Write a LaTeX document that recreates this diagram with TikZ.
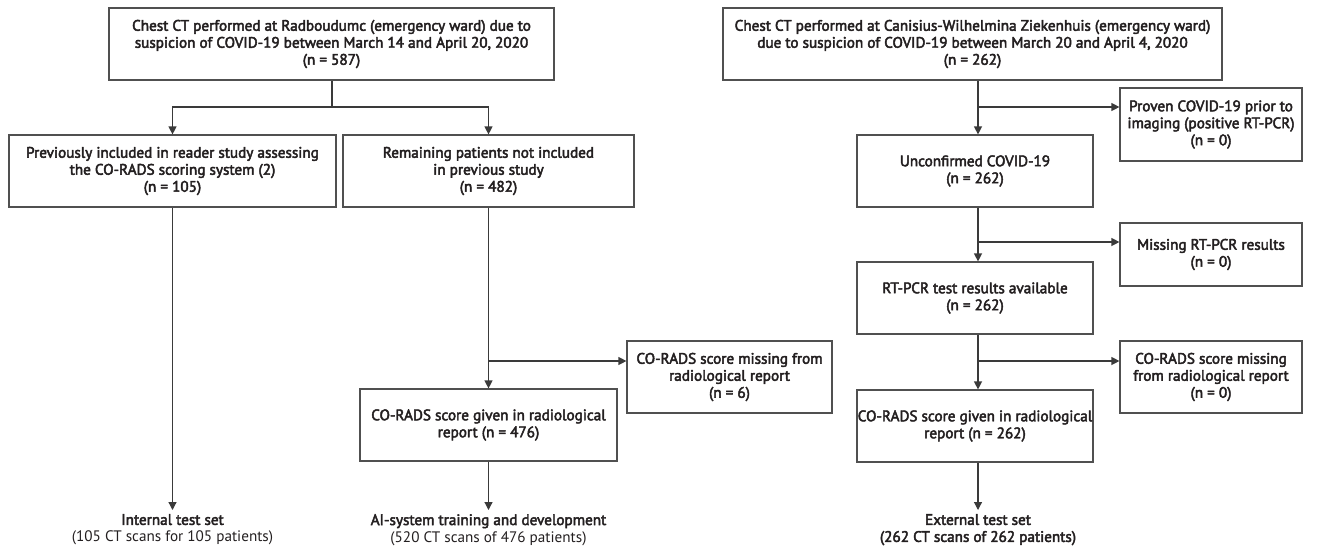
\documentclass[tikz,border=0pt]{standalone}
\usepackage{fontspec}
\setmainfont{PT Sans}
\newfontfamily\medfont[FakeBold=3]{PT Sans}
\usetikzlibrary{arrows.meta}
\definecolor{boxgray}{HTML}{505050}
\definecolor{linegray}{HTML}{3A3A3A}
\definecolor{txt}{HTML}{231F20}
\begin{document}
\begin{tikzpicture}[x=1pt,y=-1pt,
  box/.style={draw=boxgray, line width=1.2pt, rectangle, align=center, inner sep=0pt,
    font=\medfont\fontsize{15.2}{17}\selectfont, text=txt},
  lbl/.style={align=center, inner xsep=0pt, inner ysep=4pt, font=\fontsize{15.2}{17}\selectfont, text=txt},
  conn/.style={draw=linegray, line width=1.2pt},
  arr/.style={conn, -{Triangle[length=8pt,width=8pt]}}]
\useasboundingbox (0,0) rectangle (1337,550);
% left part
\node[box, minimum width=445pt, minimum height=72pt] (b1) at (331.5,44)
  {Chest CT performed at Radboudumc (emergency ward) due to\\suspicion of COVID-19 between March 14 and April 20, 2020\\(n = 587)};
\node[box, minimum width=327pt, minimum height=72pt] (b2) at (172.5,171)
  {Previously included in reader study assessing\\the CO-RADS scoring system (2)\\(n = 105)};
\node[box, minimum width=291pt, minimum height=72pt] (b3) at (488.5,171)
  {Remaining patients not included\\in previous study\\(n = 482)};
\node[box, minimum width=257pt, minimum height=72pt] (b4) at (488.5,425)
  {CO-RADS score given in radiological\\report (n = 476)};
\node[box, minimum width=205pt, minimum height=72pt] (b5) at (729.5,377)
  {CO-RADS score missing from\\radiological report\\(n = 6)};
\node[lbl, anchor=north] (l1) at (172.5,510)
  {{\medfont Internal test set}\\(105 CT scans for 105 patients)};
\node[lbl, anchor=north] (l2) at (488.5,510)
  {{\medfont AI-system training and development}\\(520 CT scans of 476 patients)};
\coordinate (j1) at (332,107);
\coordinate (j2) at (488.5,361);
\draw[conn] (b1.south -| j1) -- (j1);
\draw[arr] (j1) -| (b2.north);
\draw[arr] (j1) -| (b3.north);
\draw[arr] (b2.south) -- (l1.north);
\draw[arr] (b3.south) -- (b4.north);
\draw[arr] (j2) -- (j2 -| b5.west);
\draw[arr] (b4.south) -- (l2.north);
% right part
\node[box, minimum width=499pt, minimum height=72pt] (b6) at (972.5,44)
  {Chest CT performed at Canisius-Wilhelmina Ziekenhuis (emergency ward)\\due to suspicion of COVID-19 between March 20 and April 4, 2020\\(n = 262)};
\node[box, minimum width=236pt, minimum height=72pt] (b7) at (975,171)
  {Unconfirmed COVID-19\\(n = 262)};
\node[box, minimum width=182pt, minimum height=73pt] (b8) at (1211,124.5)
  {Proven COVID-19 prior to\\imaging (positive RT-PCR)\\(n = 0)};
\node[box, minimum width=182pt, minimum height=63pt] (b9) at (1211,254.5)
  {Missing RT-PCR results\\(n = 0)};
\node[box, minimum width=236pt, minimum height=72pt] (b10) at (975,298)
  {RT-PCR test results available\\(n = 262)};
\node[box, minimum width=182pt, minimum height=72pt] (b11) at (1211,377)
  {CO-RADS score missing\\from radiological report\\(n = 0)};
\node[box, minimum width=236pt, minimum height=72pt] (b12) at (975,426)
  {CO-RADS score given in radiological\\report (n = 262)};
\node[lbl, anchor=north, font=\medfont\fontsize{15.2}{17}\selectfont] (l3) at (978,510)
  {External test set\\(262 CT scans of 262 patients)};
\coordinate (v) at (978,0);
\coordinate (j3) at (978,107);
\coordinate (j4) at (978,242);
\coordinate (j5) at (978,361);
\draw[arr] (v |- b6.south) -- (v |- b7.north);
\draw[arr] (j3) -- (j3 -| b8.west);
\draw[arr] (v |- b7.south) -- (v |- b10.north);
\draw[arr] (j4) -- (j4 -| b9.west);
\draw[arr] (v |- b10.south) -- (v |- b12.north);
\draw[arr] (j5) -- (j5 -| b11.west);
\draw[arr] (v |- b12.south) -- (l3.north);
\end{tikzpicture}
\end{document}
